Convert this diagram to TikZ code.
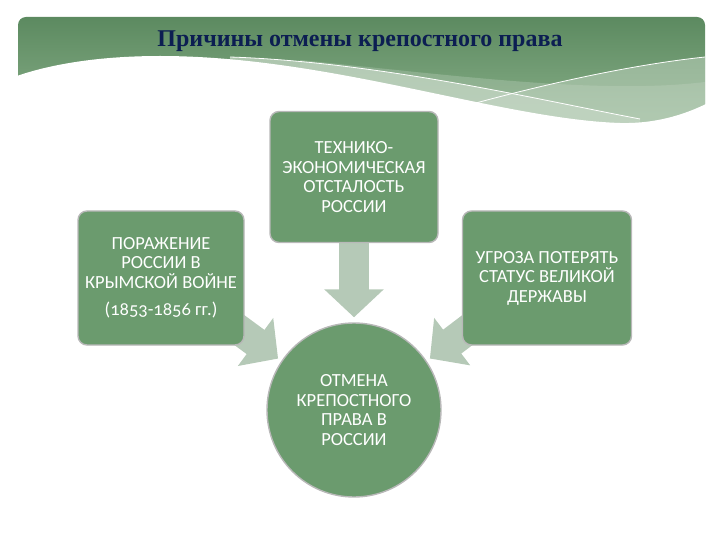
\documentclass[tikz,border=0pt]{standalone}
\usepackage{fontspec}
\setmainfont{Carlito}
\newfontfamily\titlefont{Liberation Serif}
\usepackage{xcolor}
\definecolor{boxgr}{RGB}{107,155,110}
\definecolor{arrgr}{RGB}{181,201,183}
\definecolor{bantop}{RGB}{92,138,96}
\definecolor{banbot}{RGB}{138,176,138}
\definecolor{pale}{RGB}{196,214,196}
\definecolor{titleblue}{RGB}{12,30,82}
\usetikzlibrary{calc, arrows.meta, backgrounds}

\begin{document}
\begin{tikzpicture}[x=1pt, y=-1pt,
  cause/.style={rounded corners=9pt, fill=boxgr, draw=black!28, line width=1.4pt, text=white, align=center, inner sep=2pt, font=\fontsize{18.5}{19.5}\selectfont},
  bigarrow/.style={draw=arrgr, line width=30pt, -{Triangle[width=58pt, length=28pt]}}]
\useasboundingbox (0,0) rectangle (720,540);
% header band
\shade[top color=bantop, bottom color=banbot] (18,128) -- (18,25) arc[start angle=180, end angle=270, radius=8] -- (697,17) arc[start angle=270, end angle=360, radius=8] -- (705,128) -- cycle;
\fill[white, opacity=0.18] (300,60) .. controls (450,75) and (600,95) .. (705,82) -- (705,128) -- (300,128) -- cycle;
\fill[pale, opacity=0.75] (230,57) .. controls (380,62) and (540,100) .. (640,119) -- (640,128) -- (230,128) -- cycle;
\fill[pale, opacity=0.5] (440,113) .. controls (520,90) and (620,66) .. (705,57) -- (705,128) -- (440,128) -- cycle;
\draw[white, line width=0.8pt] (230,57) .. controls (380,62) and (540,100) .. (640,119);
\draw[white, line width=0.8pt] (440,113) .. controls (520,90) and (620,66) .. (705,57);
\fill[white] (14,77) .. controls (50,64) and (100,56) .. (160,56) .. controls (330,56) and (500,119) .. (620,123) .. controls (660,124) and (690,112) .. (708,103) -- (708,132) -- (14,132) -- cycle;
\node[font=\titlefont\bfseries\fontsize{24}{28}\selectfont, text=titleblue] (title) at (360,41) {Причины отмены крепостного права};
% causes
\node[cause, minimum width=168pt, minimum height=131pt] (tech) at (354,177) {ТЕХНИКО-\\ЭКОНОМИЧЕСКАЯ\\ОТСТАЛОСТЬ\\РОССИИ};
\node[cause, minimum width=166pt, minimum height=134pt] (defeat) at (161,278) {ПОРАЖЕНИЕ\\РОССИИ В\\КРЫМСКОЙ ВОЙНЕ\\[8pt]{\addfontfeatures{Numbers=OldStyle}(1853-1856 гг.)}};
\node[cause, minimum width=169pt, minimum height=134pt] (threat) at (547,278) {УГРОЗА ПОТЕРЯТЬ\\СТАТУС ВЕЛИКОЙ\\ДЕРЖАВЫ};
\node[cause, circle, minimum size=174pt] (abolish) at (354,410) {ОТМЕНА\\КРЕПОСТНОГО\\ПРАВА В\\РОССИИ};
% arrows
\begin{pgfonlayer}{background}
\draw[bigarrow, shorten >=5pt] (tech.south) -- (abolish.north);
\draw[bigarrow, shorten >=4pt] ($(defeat.south east)+(-14,-22)$) -- (abolish.146);
\draw[bigarrow, shorten >=4pt] ($(threat.south west)+(14,-22)$) -- (abolish.34);
\end{pgfonlayer}
\end{tikzpicture}
\end{document}
